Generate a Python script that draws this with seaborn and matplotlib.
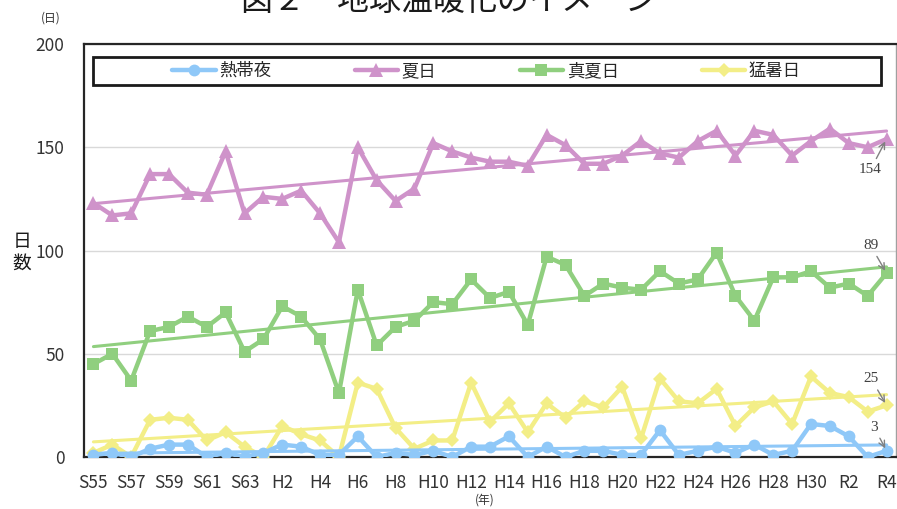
import numpy as np
import pandas as pd
import seaborn as sns
import matplotlib.pyplot as plt
from matplotlib.patches import Rectangle

# year labels (S=昭和, H=平成, R=令和)
years = ['S55', 'S56', 'S57', 'S58', 'S59', 'S60', 'S61', 'S62', 'S63',
         'H1', 'H2', 'H3', 'H4', 'H5', 'H6', 'H7', 'H8', 'H9', 'H10',
         'H11', 'H12', 'H13', 'H14', 'H15', 'H16', 'H17', 'H18', 'H19', 'H20',
         'H21', 'H22', 'H23', 'H24', 'H25', 'H26', 'H27', 'H28', 'H29', 'H30',
         'R1', 'R2', 'R3', 'R4']

# 日数
natsubi = [123, 117, 118, 137, 137, 128, 127, 148, 118,
           126, 125, 129, 118, 104, 150, 134, 124, 130, 152,
           148, 145, 143, 143, 141, 156, 151, 142, 142, 146,
           153, 147, 145, 153, 158, 146, 158, 156, 146, 153,
           159, 152, 150, 154]
manatsubi = [45, 50, 37, 61, 63, 68, 63, 70, 51,
             57, 73, 68, 57, 31, 81, 54, 63, 66, 75,
             74, 86, 77, 80, 64, 97, 93, 78, 84, 82,
             81, 90, 84, 86, 99, 78, 66, 87, 87, 90,
             82, 84, 78, 89]
moshobi = [2, 6, 0, 18, 19, 18, 8, 12, 5,
           0, 15, 11, 8, 0, 36, 33, 14, 4, 8,
           8, 36, 17, 26, 12, 26, 19, 27, 24, 34,
           9, 38, 27, 26, 33, 15, 24, 27, 16, 39,
           31, 29, 22, 25]
nettaiya = [1, 2, 0, 4, 6, 6, 0, 2, 0,
            2, 6, 5, 1, 1, 10, 0, 2, 1, 3,
            0, 5, 5, 10, 0, 5, 0, 3, 3, 1,
            1, 13, 1, 3, 5, 2, 6, 1, 3, 16,
            15, 10, 0, 3]

legend_order = ['熱帯夜', '夏日', '真夏日', '猛暑日']

sns.set_theme(style='white')
plt.rcParams['font.family'] = ['Noto Sans CJK JP', 'DejaVu Sans']

fig = plt.figure(figsize=(8.97, 5.09), dpi=100)
ax = fig.add_axes([84/897, 1-457/509, (896-84)/897, (457-44)/509])

x = np.arange(len(years))

# name, values, colour, marker, markersize
series = [
    ('夏日', natsubi, '#CF93CA', '^', 9.5),
    ('真夏日', manatsubi, '#90CF7F', 's', 8.5),
    ('猛暑日', moshobi, '#F3EE87', 'D', 7),
    ('熱帯夜', nettaiya, '#8FC8F8', 'o', 8.5),
]

for i, (name, vals, col, mk, ms) in enumerate(series):
    sns.lineplot(x=x, y=vals, ax=ax, color=col, marker=mk, markersize=ms,
                 markeredgewidth=0, lw=3.2, label=name, zorder=3+i)
    # linear trend line
    sns.regplot(x=x, y=np.array(vals, dtype=float), ax=ax, scatter=False, ci=None,
                color=col, line_kws=dict(lw=2.2, zorder=3+i))

handles, labels = ax.get_legend_handles_labels()
hmap = dict(zip(labels, handles))
leg = ax.legend([hmap[n] for n in legend_order], legend_order, ncol=4,
                loc='center', bbox_to_anchor=(0.496, 0.935), frameon=False,
                fontsize=12.5, handlelength=2.5, handletextpad=0.2,
                columnspacing=4.8)
ax.add_patch(Rectangle((9/811, 0.901), (880-93)/811, 0.068, transform=ax.transAxes,
                       fill=False, ec='#1a1a1a', lw=2, zorder=10))

# value labels at the last year
ends = [(154, natsubi[-1], (-11.5, -22)), (89, manatsubi[-1], (-11.5, 20)),
        (25, moshobi[-1], (-11, 19)), (3, nettaiya[-1], (-9, 17))]
for txt, v, off in ends:
    ax.annotate(str(txt), xy=(x[-1], v), xytext=off, textcoords='offset points',
                ha='center', va='center', fontsize=11, color='#404040',
                family='Liberation Serif',
                arrowprops=dict(arrowstyle='->', color='#808080', lw=1,
                                shrinkA=1, shrinkB=2), zorder=11)

ax.set_xlim(-0.5, 42.5)
ax.set_ylim(0, 200)
ax.set_yticks([0, 50, 100, 150, 200])
ax.set_xticks(x[::2])
ax.set_xticklabels(years[::2])
ax.tick_params(axis='both', length=0, labelsize=12.5, colors='#333333')
ax.tick_params(axis='x', pad=12)
ax.tick_params(axis='y', pad=14)
ax.yaxis.grid(True, color='#D9D9D9', lw=1)
ax.set_axisbelow(True)
ax.set_xlabel('')
ax.set_ylabel('')
for s in ['left', 'bottom', 'top']:
    ax.spines[s].set_color('#262626')
    ax.spines[s].set_linewidth(1.6)
ax.spines['right'].set_color('#A0A0A0')
ax.spines['right'].set_linewidth(1)

# title is cut by the top edge, as in the source image
fig.text(0.5, 1-10/509, '図２　地球温暖化のイメージ', ha='center', va='baseline',
         fontsize=23, color='#1a1a1a')
fig.text(22/897, 1-252/509, '日\n数', ha='center', va='center', fontsize=13.5,
         linespacing=1.05, color='#1a1a1a')
fig.text(51/897, 1-18/509, '(日)', ha='center', va='center', fontsize=8.5, color='#333333')
fig.text(485/897, 1-500/509, '(年)', ha='center', va='center', fontsize=8.5, color='#333333')

fig.savefig('out.png', dpi=100)
